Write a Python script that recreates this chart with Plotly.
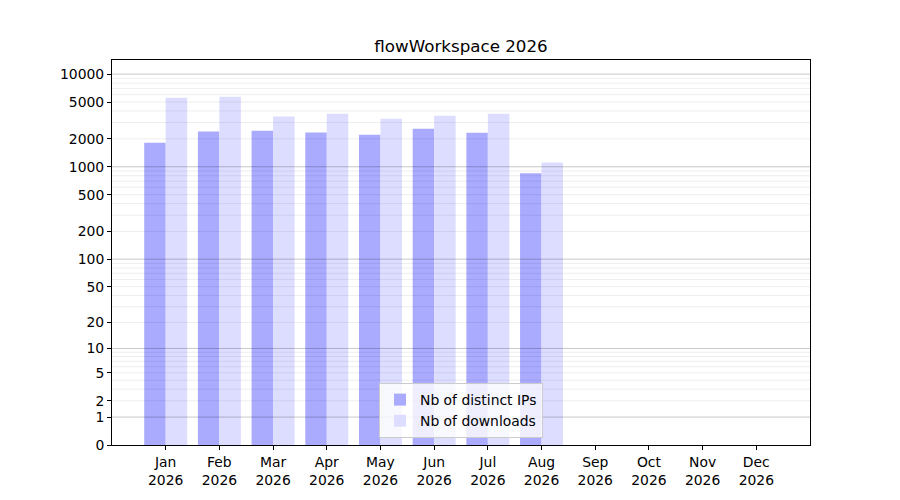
import numpy as np
import plotly.graph_objects as go

# --- DATA ---
months = ["Jan", "Feb", "Mar", "Apr", "May", "Jun", "Jul", "Aug", "Sep", "Oct", "Nov", "Dec"]
year = "2026"
distinct_ips = [1820, 2400, 2450, 2340, 2220, 2580, 2330, 850]
downloads = [5560, 5700, 3480, 3730, 3300, 3560, 3730, 1110]

tick_values = [0, 1, 2, 5, 10, 20, 50, 100, 200, 500, 1000, 2000, 5000, 10000]
major_grid = [1, 10, 100, 1000, 10000]
minor_grid = [m * d for d in [1, 10, 100, 1000] for m in range(2, 10)]


# y axis is log10(1 + n): zero stays on the axis
def tr(v):
    return np.log10(1 + np.asarray(v, dtype=float))


x_idx = list(range(len(months)))
x_labels = [f"{m}<br>{year}" for m in months]

fig = go.Figure()
fig.add_trace(go.Bar(x=x_idx[:len(distinct_ips)], y=tr(distinct_ips), name="Nb of distinct IPs",
                     marker=dict(color="#aaaaff", line_width=0)))
fig.add_trace(go.Bar(x=x_idx[:len(downloads)], y=tr(downloads), name="Nb of downloads",
                     marker=dict(color="#ddddff", line_width=0)))

# the page body adds an 8px offset, so margins are shifted by 8
fig.update_layout(
    width=900, height=500,
    margin=dict(l=104, r=98, t=52, b=63),
    paper_bgcolor="white", plot_bgcolor="white",
    font=dict(family="DejaVu Sans", size=13.9, color="black"),
    title=dict(text="flowWorkspace 2026", xref="paper", x=0.5, xanchor="center",
               y=0.924, yanchor="middle", font=dict(size=16.7)),
    barmode="group", bargap=0.2, bargroupgap=0,
    showlegend=True,
    legend=dict(x=0.5, xanchor="center", y=0.018, yanchor="bottom",
                bgcolor="rgba(255,255,255,0.8)", bordercolor="#cccccc", borderwidth=1,
                font=dict(size=13.9), traceorder="normal"),
)

fig.update_xaxes(
    range=[-1, 12], tickvals=x_idx, ticktext=x_labels, tickangle=0,
    showline=True, linecolor="black", linewidth=1, mirror=True,
    ticks="outside", ticklen=4, tickcolor="black", showgrid=False, zeroline=False,
)

fig.update_yaxes(
    range=[0, 4.152], tickvals=tr(tick_values), ticktext=[str(t) for t in tick_values],
    showline=True, linecolor="black", linewidth=1, mirror=True,
    ticks="outside", ticklen=4, tickcolor="black", showgrid=False, zeroline=False,
)

# grid lines drawn above the bars, like the reference
for g in minor_grid:
    fig.add_hline(y=float(tr(g)), line=dict(color="rgba(0,0,0,0.07)", width=1), layer="above")
for g in major_grid:
    fig.add_hline(y=float(tr(g)), line=dict(color="rgba(0,0,0,0.22)", width=1), layer="above")

fig.write_html("out.html")
